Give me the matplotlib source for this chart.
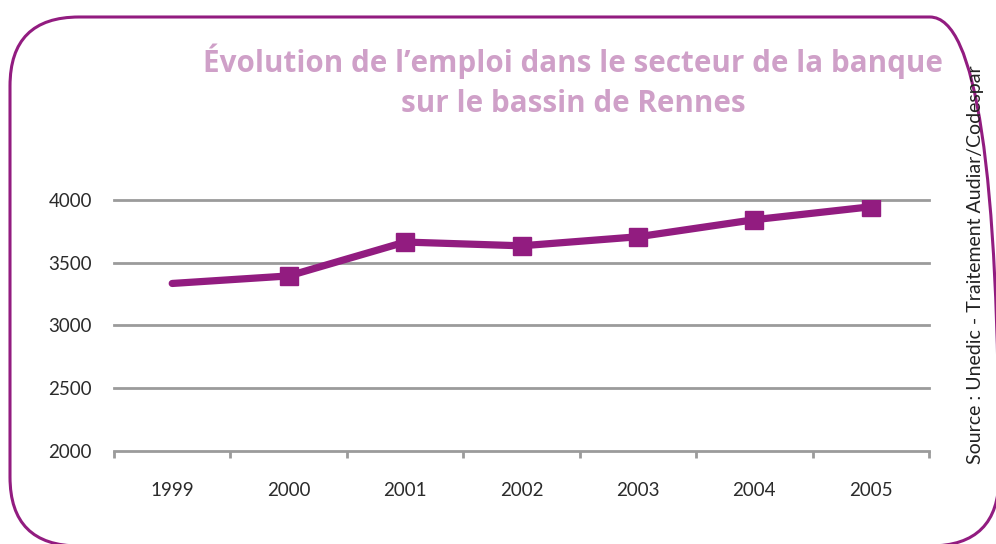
import matplotlib
matplotlib.use("Agg")
import matplotlib.pyplot as plt
from matplotlib.patches import FancyBboxPatch
from matplotlib.ticker import FixedLocator, NullFormatter

# data
years = ["1999", "2000", "2001", "2002", "2003", "2004", "2005"]
emplois = [3335, 3395, 3665, 3635, 3707, 3843, 3946]
y_ticks = [2000, 2500, 3000, 3500, 4000]

title = "Évolution de l’emploi dans le secteur de la banque\nsur le bassin de Rennes"
source = "Source : Unedic - Traitement Audiar/Codespar"

purple = "#921c80"
title_col = "#cfa0c8"
grid_col = "#9b9b9b"
text_col = "#2b2b2b"

plt.rcParams["font.family"] = ["Lato", "DejaVu Sans"]

fig = plt.figure(figsize=(9.96, 5.44), dpi=100)

# rounded frame drawn in pixel units on a background axes
bg = fig.add_axes([0, 0, 1, 1])
bg.set_xlim(0, 996)
bg.set_ylim(0, 544)
bg.axis("off")
frame = FancyBboxPatch((10, 544 - 546), 989, 529, boxstyle="round,pad=0,rounding_size=69",
                       fill=False, edgecolor=purple, linewidth=2.2)
bg.add_patch(frame)

ax = fig.add_axes([114 / 996, 1 - 451 / 544, (929 - 114) / 996, (451 - 200) / 544])
ax.patch.set_alpha(0)
x = list(range(len(years)))

ax.set_xlim(-0.5, len(years) - 0.5)
ax.set_ylim(2000, 4000)

for v in y_ticks:
    ax.axhline(v, color=grid_col, lw=2.0, zorder=1, clip_on=False)

ax.plot(x, emplois, color=purple, lw=5.2, solid_capstyle="round", zorder=3)
ax.plot(x[1:], emplois[1:], ls="none", marker="s", ms=13, color=purple, zorder=4)

for s in ["top", "right", "left", "bottom"]:
    ax.spines[s].set_visible(False)

ax.set_yticks(y_ticks)
ax.set_yticklabels([str(v) for v in y_ticks])
ax.tick_params(axis="y", length=0, pad=16, labelsize=13.5, labelcolor=text_col)

ax.xaxis.set_major_locator(FixedLocator([i - 0.5 for i in range(len(years) + 1)]))
ax.xaxis.set_major_formatter(NullFormatter())
ax.xaxis.set_minor_locator(FixedLocator(x))
ax.set_xticklabels(years, minor=True)
ax.tick_params(axis="x", which="major", length=5, width=2, color=grid_col, direction="out")
ax.tick_params(axis="x", which="minor", length=0, pad=22, labelsize=13.5, labelcolor=text_col)

fig.text(573 / 996, 1 - 81 / 544, title, ha="center", va="center", color=title_col,
         fontsize=21.3, fontweight="bold", family=["Open Sans", "DejaVu Sans"],
         linespacing=1.45)

fig.text(975 / 996, 1 - 265 / 544, source, rotation=90, ha="center", va="center",
         color="#222222", fontsize=14, family=["Lato", "DejaVu Sans"])

fig.savefig("out.png", dpi=100)
